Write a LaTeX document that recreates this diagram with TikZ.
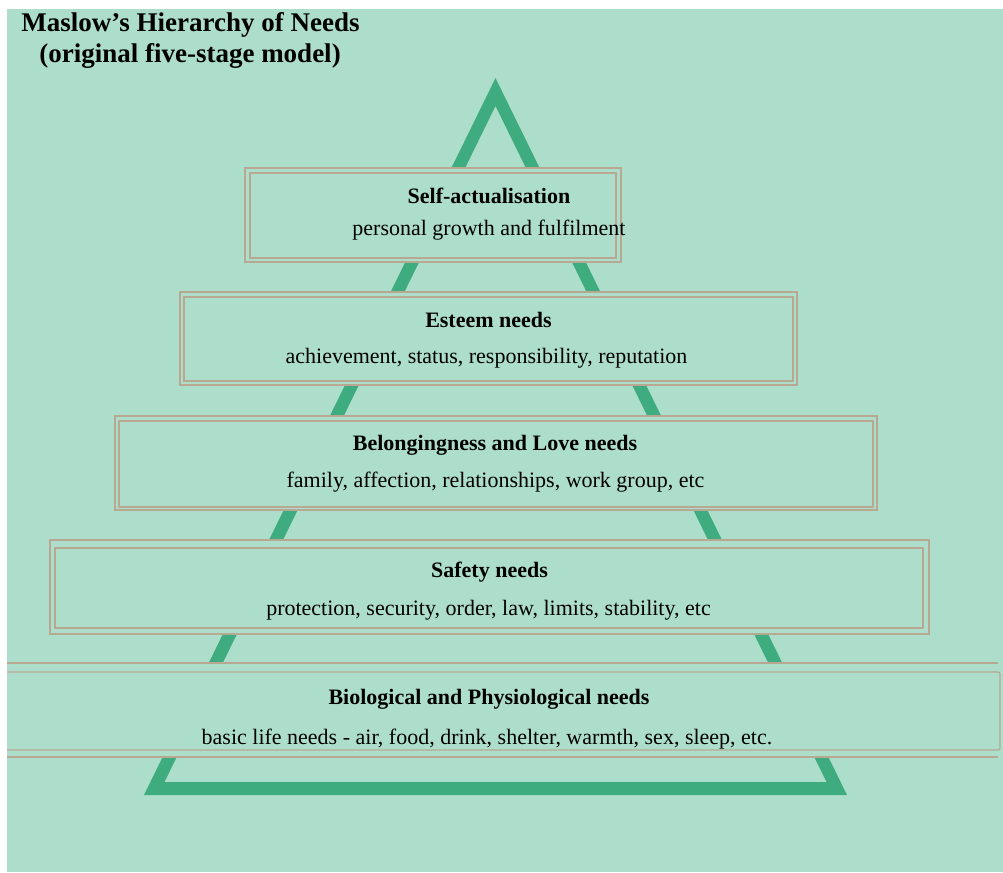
\documentclass[tikz,border=0pt]{standalone}
\usepackage{fontspec}
\setmainfont{Liberation Serif}
\definecolor{bg}{HTML}{ADDECB}
\definecolor{tri}{HTML}{3FAC7F}
\definecolor{edge}{HTML}{B8A892}
\begin{document}
\begin{tikzpicture}[x=1pt,y=-1pt,
  titletext/.style={font=\fontsize{27}{30}\selectfont\bfseries, anchor=base, inner sep=0pt},
  headtext/.style={font=\fontsize{22}{24}\selectfont\bfseries, anchor=base, inner sep=0pt},
  subtext/.style={font=\fontsize{22}{24}\selectfont, anchor=base, inner sep=0pt},
  boxline/.style={draw=edge, line width=1.3pt}]
\useasboundingbox (0,0) rectangle (1003,872);
\fill[white] (0,0) rectangle (1003,872);
\fill[bg] (7,9) rectangle (1003,872);
% pyramid outline
\fill[tri, even odd rule] (495.5,78) -- (144,795) -- (847,795) -- cycle
  (495.5,106) -- (164.5,782) -- (826.5,782) -- cycle;
% boxes
\begin{scope}
\clip (7,9) rectangle (1003,872);
% box 1
\fill[bg] (245,168) rectangle (621,262);
\draw[boxline] (245,168) rectangle (621,262);
\draw[boxline] (250,173) rectangle (616,258);
% box 2
\fill[bg] (180,292) rectangle (797,385);
\draw[boxline] (180,292) rectangle (797,385);
\draw[boxline] (184,297) rectangle (793,381);
% box 3
\fill[bg] (115,416) rectangle (877,510);
\draw[boxline] (115,416) rectangle (877,510);
\draw[boxline] (119,421) rectangle (873,507);
% box 4
\fill[bg] (50,540) rectangle (929,634);
\draw[boxline] (50,540) rectangle (929,634);
\draw[boxline] (55,548) rectangle (923,628);
% box 5
\fill[bg] (0,663) rectangle (1001,757);
\draw[boxline] (0,663) -- (998,663);
\draw[boxline] (0,757) -- (998,757);
\draw[boxline, rounded corners=2pt] (0,672) -- (1000,672) -- (1000,750) -- (0,750);
\end{scope}
% title
\node[titletext] (title1) at (190.5,31.5) {Maslow’s Hierarchy of Needs};
\node[titletext] (title2) at (190,63) {(original five-stage model)};
% texts
\node[headtext] (h1) at (489,203) {Self-actualisation};
\node[subtext] (s1) at (489,235) {personal growth and fulfilment};
\node[headtext] (h2) at (488.5,327) {Esteem needs};
\node[subtext] (s2) at (486.5,363) {achievement, status, responsibility, reputation};
\node[headtext] (h3) at (495,450) {Belongingness and Love needs};
\node[subtext] (s3) at (495.5,487) {family, affection, relationships, work group, etc};
\node[headtext] (h4) at (489.5,577) {Safety needs};
\node[subtext] (s4) at (488.5,615) {protection, security, order, law, limits, stability, etc};
\node[headtext] (h5) at (489,704) {Biological and Physiological needs};
\node[subtext] (s5) at (487,744) {basic life needs - air, food, drink, shelter, warmth, sex, sleep, etc.};
\end{tikzpicture}
\end{document}
